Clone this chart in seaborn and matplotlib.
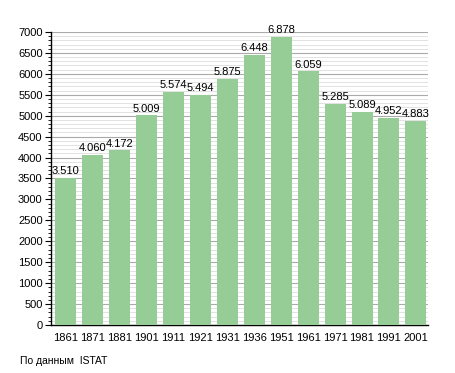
import matplotlib
matplotlib.use("Agg")
import matplotlib.pyplot as plt
import seaborn as sns
import pandas as pd
from matplotlib.ticker import MultipleLocator

years = ["1861", "1871", "1881", "1901", "1911", "1921", "1931", "1936",
         "1951", "1961", "1971", "1981", "1991", "2001"]
population = [3510, 4060, 4172, 5009, 5574, 5494, 5875, 6448,
              6878, 6059, 5285, 5089, 4952, 4883]

df = pd.DataFrame({"year": years, "pop": population})

sns.set_style("white")
plt.rcParams['font.family'] = ['Liberation Sans', 'DejaVu Sans']
plt.rcParams['text.color'] = 'black'
plt.rcParams['xtick.color'] = 'black'
plt.rcParams['ytick.color'] = 'black'

fig = plt.figure(figsize=(4.55, 3.73), dpi=100)
ax = fig.add_axes([51/455, 1 - 325/373, 377/455, 293/373])

sns.barplot(data=df, x="year", y="pop", color="#96CC96", saturation=1,
            width=0.78, linewidth=0, ax=ax, zorder=3)

ax.set_ylim(0, 7000)
ax.set_xlim(-0.55, 13.45)
ax.yaxis.set_major_locator(MultipleLocator(500))
ax.yaxis.set_minor_locator(MultipleLocator(100))
ax.grid(axis="y", which="major", color="#aaaaaa", linewidth=0.8, zorder=0)
ax.grid(axis="y", which="minor", color="#dddddd", linewidth=0.6, zorder=0)
ax.set_axisbelow(True)

for s in ["top", "right"]:
    ax.spines[s].set_visible(False)
for s in ["left", "bottom"]:
    ax.spines[s].set_color("black")
    ax.spines[s].set_linewidth(1.0)

ax.tick_params(axis="y", which="major", left=True, length=4, width=0.8,
               labelsize=8, pad=2)
ax.tick_params(axis="y", which="minor", left=True, length=2, width=0.6)
ax.tick_params(axis="x", bottom=False, labelsize=8, pad=2)
ax.set_xlabel("")
ax.set_ylabel("")

for i, v in enumerate(population):
    ax.text(i, v + 40, f"{v:,}".replace(",", "."), ha="center", va="bottom",
            fontsize=8, zorder=4, color="black")

fig.text(20/455, 1 - 361/373, "По данным  ISTAT", fontsize=7.5,
         ha="left", va="center", color="black")

fig.savefig("out.png", dpi=100)
